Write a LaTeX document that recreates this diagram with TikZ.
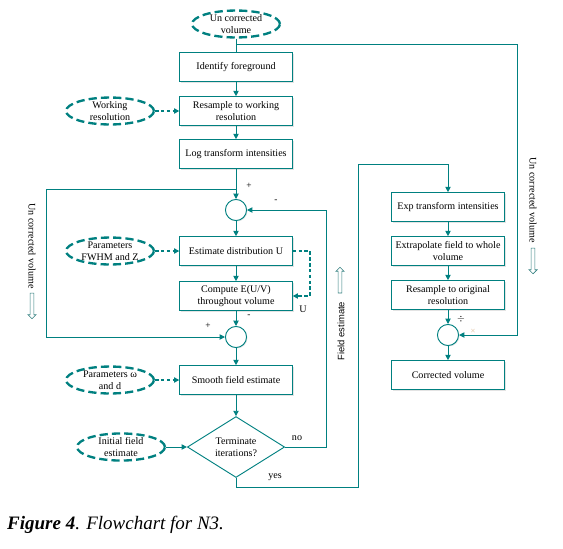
\documentclass[tikz,border=0pt]{standalone}
\usepackage{fontspec}
\setmainfont{Liberation Serif}
\newfontfamily\labelsans{Liberation Sans}
\usetikzlibrary{shapes.geometric}
\usetikzlibrary{shapes.arrows}
\usetikzlibrary{shadows}
\usetikzlibrary{arrows.meta}
\definecolor{flowteal}{RGB}{0,128,128}

\tikzset{
  procbox/.style={draw=flowteal, fill=white, line width=0.8pt, minimum width=96pt, minimum height=24.5pt,
    inner sep=1pt, align=center, font=\fontsize{8.6}{10.2}\selectfont,
    drop shadow={shadow xshift=1.3pt, shadow yshift=-1.3pt, fill=black!22}},
  inputell/.style={ellipse, draw=flowteal, line width=2pt, dash pattern=on 7pt off 3.5pt,
    minimum width=75pt, minimum height=23pt, inner sep=0pt, align=center,
    font=\fontsize{8.6}{10.2}\selectfont},
  sumcirc/.style={circle, draw=flowteal, fill=white, line width=0.8pt, minimum size=18pt, inner sep=0pt,
    drop shadow={shadow xshift=0.8pt, shadow yshift=-0.8pt, fill=black!18}},
  decide/.style={diamond, draw=flowteal, line width=0.8pt, aspect=1.6, inner sep=0pt,
    minimum width=83pt, minimum height=52pt, align=center, font=\fontsize{8.6}{10.2}\selectfont},
  link/.style={draw=flowteal, line width=0.8pt},
  flow/.style={link, -{Triangle[length=4.5pt,width=4.5pt]}},
  dflow/.style={flow, line width=1.4pt, dash pattern=on 3pt off 2pt},
  sign/.style={inner sep=0pt, font=\fontsize{8}{9}\selectfont},
  sidetext/.style={inner sep=0pt, font=\fontsize{8.6}{10}\selectfont},
  hollowarrow/.style={single arrow, draw=flowteal!60!gray, fill=white, line width=0.5pt,
    minimum height=22pt, minimum width=7pt, single arrow head extend=1.5pt, inner sep=1pt}
}

\begin{document}
\begin{tikzpicture}[x=0.03cm, y=-0.03cm]
  \useasboundingbox (0,0) rectangle (563,548);

  % main column
  \node[inputell] (unc) at (236,24) {Un corrected\\volume};
  \node[procbox] (ident) at (236,67) {Identify foreground};
  \node[procbox] (resw) at (236,111) {Resample to working\\resolution};
  \node[procbox] (logt) at (236,154) {Log transform intensities};
  \node[sumcirc] (sum1) at (236,210) {};
  \node[procbox] (est) at (236,251) {Estimate distribution U};
  \node[procbox] (comp) at (236,296) {Compute E(U/V)\\throughout volume};
  \node[sumcirc] (sum2) at (236,337) {};
  \node[procbox] (smooth) at (236,380) {Smooth field estimate};
  \node[decide] (term) at (236,447) {Terminate\\iterations?};

  % inputs on the left
  \node[inputell] (work) at (110,111) {Working\\resolution};
  \node[inputell] (fwhm) at (110,251) {Parameters\\FWHM and Z};
  \node[inputell] (omega) at (110,380) {Parameters ω\\and d};
  \node[inputell, minimum height=21pt] (init) at (121,447) {Initial field\\estimate};

  % right column
  \node[procbox] (exp) at (448,207) {Exp transform intensities};
  \node[procbox] (extra) at (448,251) {Extrapolate field to whole\\volume};
  \node[procbox] (reso) at (448,295) {Resample to original\\resolution};
  \node[sumcirc] (sum3) at (448,335) {};
  \node[procbox] (corr) at (448,375) {Corrected volume};

  % corners of the connectors
  \coordinate (tapA) at (236,44);
  \coordinate (rtop) at (517,44);
  \coordinate (tapB) at (236,189);
  \coordinate (lcorner) at (46,189);
  \coordinate (ucorner) at (310,251);
  \coordinate (fbk) at (326,447);
  \coordinate (ybot) at (236,487);
  \coordinate (ymid) at (358,487);
  \coordinate (ytop) at (358,164);

  \draw[link] (unc) -- (ident);
  \draw[flow] (tapA) -- (rtop) |- (sum3);
  \draw[flow] (ident) -- (resw);
  \draw[flow] (resw) -- (logt);
  \draw[flow] (logt) -- (sum1);
  \draw[flow] (tapB) -- (lcorner) |- (sum2);
  \draw[flow] (sum1) -- (est);
  \draw[flow] (est) -- (comp);
  \draw[flow] (comp) -- (sum2);
  \draw[flow] (sum2) -- (smooth);
  \draw[flow] (smooth) -- (term);
  \draw[flow] (term.east) -- (fbk) |- (sum1);
  \draw[flow] (term.south) -- (ybot) -- (ymid) -- (ytop) -| (exp);
  \draw[flow] (init) -- (term);
  \draw[dflow] (work) -- (resw);
  \draw[dflow] (fwhm) -- (est);
  \draw[dflow] (omega) -- (smooth);
  \draw[dflow] (est.east) -- (ucorner) |- (comp.east);
  \draw[flow] (exp) -- (extra);
  \draw[flow] (extra) -- (reso);
  \draw[flow] (reso) -- (sum3);
  \draw[flow] (sum3) -- (corr);

  % signs and branch labels
  \node[sign] (p1) at (249,186) {+};
  \node[sign] (m1) at (276,201) {-};
  \node[sign] (p2) at (208,326) {+};
  \node[sign] (m2) at (249,316) {-};
  \node[sign] (dv) at (461,319) {$\div$};
  \node[sign, text=brown!70] (ml) at (473,331) {\tiny$\times$};
  \node[sidetext] (ulab) at (303,309) {U};
  \node[sidetext] (nolab) at (297,438) {no};
  \node[sidetext] (yeslab) at (275,477) {yes};

  % side notes
  \node[sidetext, rotate=-90] (uncl) at (32,246) {Un corrected volume};
  \node[hollowarrow, shape border rotate=270] (uncla) at (32,305) {};
  \node[sidetext, rotate=90, font=\labelsans\fontsize{8}{9}\selectfont] (fest) at (341,331) {Field estimate};
  \node[hollowarrow, shape border rotate=90] (festa) at (340,281) {};
  \node[sidetext, rotate=-90] (uncr) at (533,200) {Un corrected volume};
  \node[hollowarrow, shape border rotate=270] (uncra) at (533,260) {};

  \node[anchor=base west, inner sep=0pt, font=\fontsize{16.2}{18}\selectfont] (caption) at (7,529)
    {\textbf{\textit{Figure 4}}\textit{. Flowchart for N3.}};
\end{tikzpicture}
\end{document}
